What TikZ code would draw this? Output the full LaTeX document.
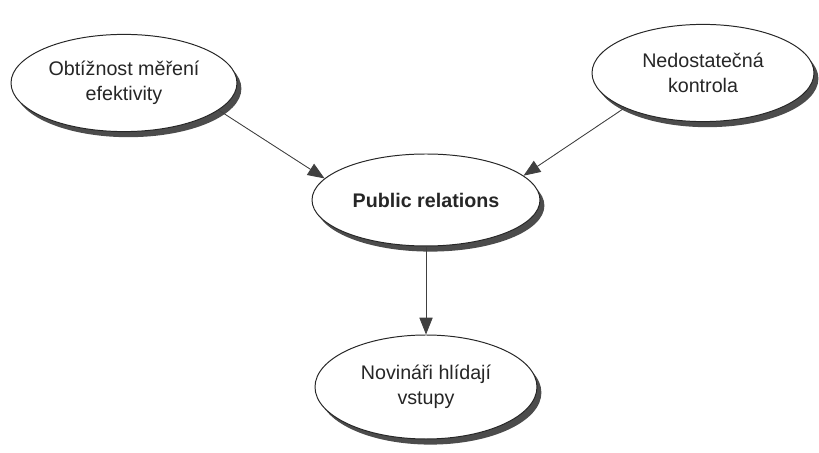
\documentclass[tikz,border=0pt]{standalone}
\usepackage{fontspec}
\setmainfont{Liberation Sans}
\usetikzlibrary{arrows.meta,shapes.geometric,shadows}

\begin{document}
\begin{tikzpicture}[
  font=\fontsize{14}{18}\selectfont,
  every node/.style={align=center},
  bubble/.style={ellipse, draw=black!85, line width=0.7pt, fill=white,
                 text=black!85, inner sep=0pt,
                 drop shadow={shadow xshift=0.11cm, shadow yshift=-0.14cm,
                              fill=black!70, opacity=1}},
  link/.style={-{Triangle[length=0.42cm,width=0.33cm]}, line width=0.6pt,
               draw=black!75, fill=black!75}
]

\useasboundingbox (0,0) rectangle (20.475,11.325);

% ---- Causes ------------------------------------------------------------------
\node[bubble, minimum width=5.65cm, minimum height=2.43cm] (measure) at (3.10, 9.25)
  {Obtížnost měření\\ efektivity};

\node[bubble, minimum width=5.55cm, minimum height=2.43cm] (control) at (17.575, 9.5)
  {Nedostatečná\\ kontrola};

% ---- Centre ------------------------------------------------------------------
\node[bubble, minimum width=5.7cm, minimum height=2.3cm] (pr) at (10.65, 6.325)
  {\bfseries Public relations};

% ---- Effect ------------------------------------------------------------------
\node[bubble, minimum width=5.55cm, minimum height=2.6cm] (press) at (10.65, 1.65)
  {Novináři hlídají\\ vstupy};

% ---- Connectors ----------------------------------------------------------------
\draw[link] (measure.-16) -- (pr.168);
\draw[link] (control.204) -- (pr.14);
\draw[link] (pr.south) -- (press.north);

\end{tikzpicture}
\end{document}
